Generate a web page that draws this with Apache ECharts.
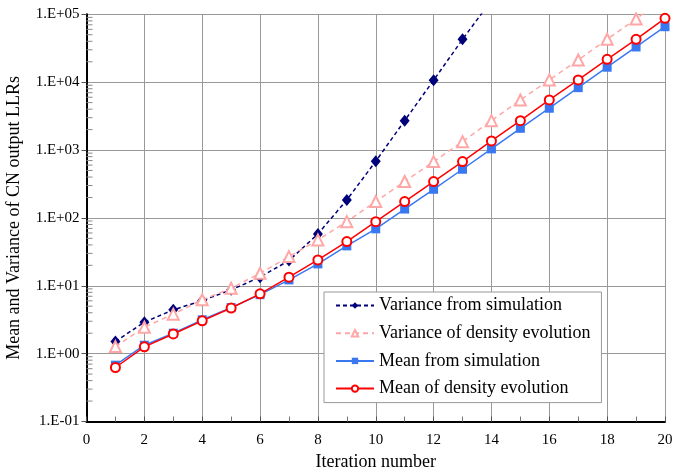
<!DOCTYPE html>
<html>
<head>
<meta charset="utf-8">
<script src="https://cdn.jsdelivr.net/npm/echarts@6/dist/echarts.min.js"></script>
<style>
  html, body { margin: 0; padding: 0; background: #fff; }
  #chart { width: 674px; height: 472px; }
</style>
</head>
<body>
<div id="chart"></div>
<script>
// Iteration index shared by all curves
const iterations = [1, 2, 3, 4, 5, 6, 7, 8, 9, 10, 11, 12, 13, 14, 15, 16, 17, 18, 19, 20];

// Variance of CN output LLRs from simulation (last point runs past the top of the axis)
const varianceSim = [1.51, 2.91, 4.42, 6.05, 8.7, 13.4, 23.5, 58, 184, 684, 2710, 10670, 42800, 161000];

// Variance predicted by density evolution (last point runs past the top of the axis)
const varianceDE = [1.27, 2.45, 3.82, 6.2, 9.2, 15.3, 26.9, 47.4, 88, 174, 343, 675, 1330, 2710, 5470, 10800, 21200, 42800, 85300, 178000];

// Mean of CN output LLRs from simulation
const meanSim = [0.676, 1.33, 2.0, 3.15, 4.77, 7.4, 12.2, 21, 38.7, 69, 135, 264, 521, 1040, 2090, 4130, 8300, 16600, 33000, 65600];

// Mean predicted by density evolution
const meanDE = [0.625, 1.26, 1.95, 3.04, 4.7, 7.6, 13.4, 24, 44.8, 88, 174, 343, 675, 1360, 2710, 5470, 10800, 21700, 42800, 87300];

const seriesNames = [
  'Variance from simulation',
  'Variance of density evolution',
  'Mean from simulation',
  'Mean of density evolution'
];

// Axis ranges
const xMin = 0, xMax = 20, xStep = 2;
const yMin = 0.1, yMax = 100000;

const pairs = vals => vals.map((v, i) => [iterations[i], v]);

// Minor ticks of the log axis at 2..9 within every decade
const logMinorTicks = [];
for (let e = Math.log10(yMin); e < Math.log10(yMax); e++) {
  for (let k = 2; k <= 9; k++) logMinorTicks.push([xMin, k * Math.pow(10, e)]);
}

const serif = 'Liberation Serif';

const chart = echarts.init(document.getElementById('chart'), null, { renderer: 'canvas' });

chart.setOption({
  animation: false,
  backgroundColor: '#fff',
  textStyle: { fontFamily: serif },
  grid: {
    left: 86.5, right: 9, top: 14.3, bottom: 50.5,
    containLabel: false,
    outerBoundsMode: 'none'
  },
  legend: {
    data: seriesNames,
    orient: 'vertical',
    left: 324,
    top: 292,
    padding: [4.5, 11, 5, 11],
    itemWidth: 38,
    itemHeight: 8,
    itemGap: 9.7,
    backgroundColor: '#fff',
    borderColor: '#999',
    borderWidth: 1,
    textStyle: { fontFamily: serif, fontSize: 18, color: '#000', lineHeight: 18 }
  },
  xAxis: {
    type: 'value',
    min: xMin,
    max: xMax,
    interval: xStep,
    name: 'Iteration number',
    nameLocation: 'middle',
    nameGap: 32,
    nameTextStyle: { fontFamily: serif, fontSize: 18, color: '#000' },
    axisLine: { show: true, onZero: false, lineStyle: { color: '#000', width: 2 } },
    axisTick: { show: true, inside: true, length: 5, lineStyle: { color: '#555' } },
    minorTick: { show: true, splitNumber: 2, length: 5, lineStyle: { color: '#777' } },
    axisLabel: { fontFamily: serif, fontSize: 15, color: '#000', margin: 11 },
    splitLine: { show: true, lineStyle: { color: '#999', width: 1 } }
  },
  yAxis: {
    type: 'log',
    logBase: 10,
    min: yMin,
    max: yMax,
    name: 'Mean and Variance of CN output LLRs',
    nameLocation: 'middle',
    nameGap: 63.5,
    nameTextStyle: { fontFamily: serif, fontSize: 18, color: '#000' },
    axisLine: { show: true, onZero: false, lineStyle: { color: '#000', width: 2 } },
    axisTick: { show: true, inside: false, length: 5, lineStyle: { color: '#555' } },
    axisLabel: {
      fontFamily: serif, fontSize: 15, color: '#000', margin: 7,
      formatter: v => {
        const e = Math.round(Math.log10(v));
        return '1.E' + (e < 0 ? '-' : '+') + String(Math.abs(e)).padStart(2, '0');
      }
    },
    splitLine: { show: true, lineStyle: { color: '#999', width: 1 } }
  },
  series: [
    {
      // short inward minor ticks on the log axis
      type: 'custom',
      silent: true,
      z: 1,
      data: logMinorTicks,
      encode: { x: 0, y: 1 },
      renderItem: (params, api) => {
        const p = api.coord([api.value(0), api.value(1)]);
        return {
          type: 'line',
          shape: { x1: p[0], y1: p[1], x2: p[0] + 6, y2: p[1] },
          style: { stroke: '#888', lineWidth: 1 }
        };
      }
    },
    {
      name: seriesNames[0],
      type: 'line',
      data: pairs(varianceSim),
      symbol: 'diamond',
      symbolSize: [10, 12],
      color: '#00007a',
      itemStyle: { color: '#00007a' },
      lineStyle: { color: '#00007a', width: 1.5, type: [4, 3] },
      z: 3
    },
    {
      name: seriesNames[1],
      type: 'line',
      data: pairs(varianceDE),
      symbol: 'emptyTriangle',
      symbolSize: 11,
      color: '#ffa6a6',
      itemStyle: { color: '#ffa6a6', borderColor: '#ffa6a6', borderWidth: 1.3 },
      lineStyle: { color: '#ffa6a6', width: 1.5, type: [5, 4] },
      z: 4
    },
    {
      name: seriesNames[2],
      type: 'line',
      data: pairs(meanSim),
      symbol: 'rect',
      symbolSize: 9,
      color: '#3a78f2',
      itemStyle: { color: '#3a78f2' },
      lineStyle: { color: '#3a78f2', width: 1.5 },
      z: 5
    },
    {
      name: seriesNames[3],
      type: 'line',
      data: pairs(meanDE),
      symbol: 'emptyCircle',
      symbolSize: 9,
      color: '#ff0000',
      itemStyle: { color: '#ff0000', borderColor: '#ff0000', borderWidth: 1.3 },
      lineStyle: { color: '#ff0000', width: 1.5 },
      z: 6
    }
  ]
});
</script>
</body>
</html>
